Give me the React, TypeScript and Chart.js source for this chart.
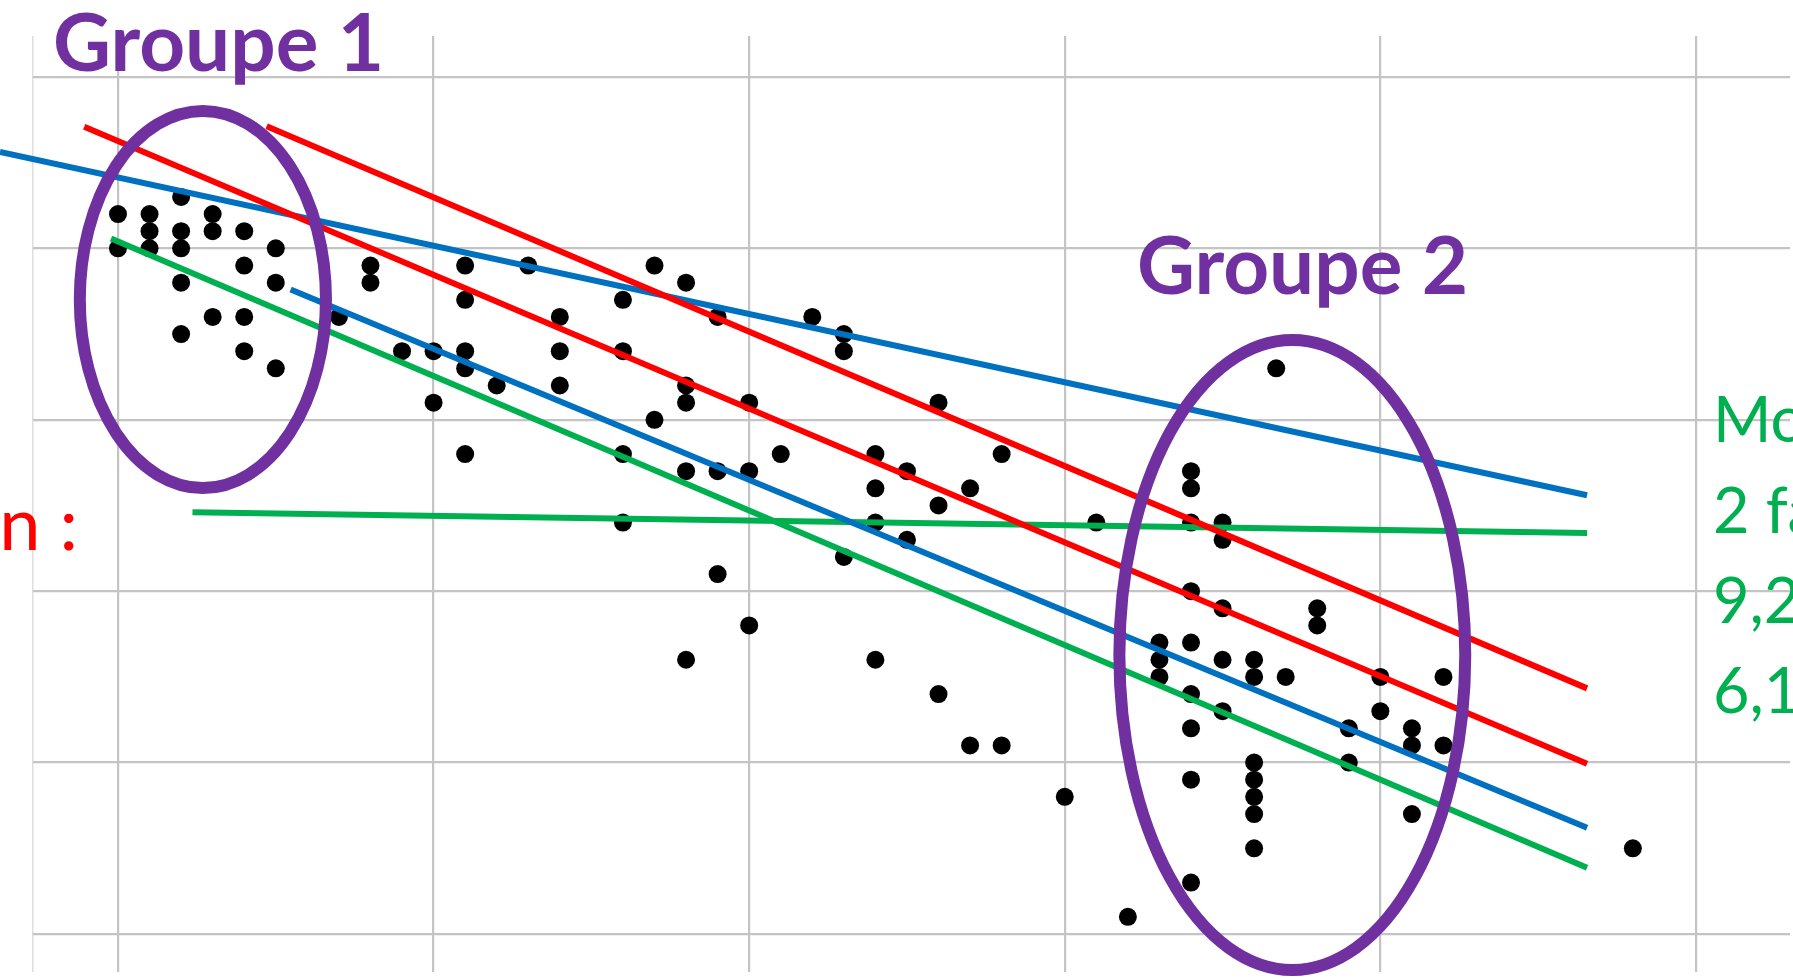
import React, { useEffect, useRef } from "react";
import { Chart, registerables } from "chart.js";

Chart.register(...registerables);

// Axis ranges (data units) and gridline positions
const X_MIN = -2.693;
const X_MAX = 52.98;
const Y_MIN = -2.217;
const Y_MAX = 52.39;
const xGridTicks = [0, 10, 20, 30, 40, 50];
const yGridTicks = [0, 10, 20, 30, 40, 50];

// Scatter points
const dotX = [
  0, 0,
  1, 1, 1,
  2, 2, 2, 2, 2,
  3, 3, 3,
  4, 4, 4, 4,
  5, 5, 5,
  7,
  8, 8,
  9,
  10, 10,
  11, 11, 11, 11, 11,
  12,
  13,
  14, 14, 14,
  16, 16, 16, 16,
  17, 17,
  18, 18, 18, 18, 18,
  19, 19, 19,
  20, 20, 20,
  21,
  22,
  23, 23, 23,
  24, 24, 24, 24,
  25, 25,
  26, 26, 26,
  27, 27,
  28, 28,
  30,
  31,
  32,
  33, 33, 33,
  34, 34, 34, 34, 34, 34, 34, 34, 34,
  35, 35, 35, 35, 35,
  36, 36, 36, 36, 36, 36, 36,
  36.7,
  37,
  38, 38,
  39, 39,
  40, 40,
  41, 41, 41,
  42, 42,
  48,
];
const dotY = [
  42, 40,
  42, 41, 40,
  43, 41, 40, 38, 35,
  42, 41, 36,
  41, 39, 36, 34,
  40, 38, 33,
  36,
  39, 38,
  34,
  34, 31,
  39, 37, 34, 33, 28,
  32,
  39,
  36, 34, 32,
  37, 34, 28, 24,
  39, 30,
  38, 32, 31, 27, 16,
  36, 27, 21,
  31, 27, 18,
  28,
  36,
  35, 34, 22,
  28, 26, 24, 16,
  27, 23,
  31, 25, 14,
  26, 11,
  28, 11,
  8,
  24,
  1,
  17, 16, 15,
  27, 26, 24, 20, 17, 14, 12, 9, 3,
  24, 23, 19, 16, 13,
  16, 15, 10, 9, 8, 7, 5,
  33,
  15,
  19, 18,
  12, 10,
  15, 13,
  12, 11, 7,
  15, 11,
  5,
];

// Fitted lines: [start, end] in data units
const redUpper = [[4.71, 47.13], [46.55, 14.33]];
const redLower = [[-1.07, 47.1], [46.55, 9.93]];
const blueUpper = [[-3.74, 45.63], [46.55, 25.6]];
const blueLower = [[5.47, 37.6], [46.55, 6.2]];
const greenSteep = [[-0.22, 40.57], [46.55, 3.87]];
const greenFlat = [[2.36, 24.6], [46.55, 23.4]];

// Group ellipses (data units)
const groupNames = ["Groupe 1", "Groupe 2"];
const groupCenterX = [2.69, 37.21];
const groupCenterY = [37.02, 16.28];
const groupRadiusX = [3.9, 5.48];
const groupRadiusY = [11.0, 18.38];

// Side texts
const leftNote = "n :";
const rightNotes = ["Mo", "2 fa", "9,2", "6,1"];

const PURPLE = "#7030A0";
const RED = "#FF0000";
const BLUE = "#0070C0";
const GREEN = "#00B050";

const toPts = (p: number[][]) => p.map(([x, y]) => ({ x, y }));

export default function App() {
  const ref = useRef<HTMLCanvasElement | null>(null);

  useEffect(() => {
    if (!ref.current) return;

    const overlay = {
      id: "overlay",
      afterDatasetsDraw(chart: any) {
        const { ctx } = chart;
        const xs = chart.scales.x;
        const ys = chart.scales.y;
        ctx.save();
        // ellipses
        ctx.strokeStyle = PURPLE;
        ctx.lineWidth = 12;
        for (let i = 0; i < groupNames.length; i++) {
          const cx = xs.getPixelForValue(groupCenterX[i]);
          const cy = ys.getPixelForValue(groupCenterY[i]);
          const rx = xs.getPixelForValue(groupCenterX[i] + groupRadiusX[i]) - cx;
          const ry = cy - ys.getPixelForValue(groupCenterY[i] + groupRadiusY[i]);
          ctx.beginPath();
          ctx.ellipse(cx, cy, rx, ry, 0, 0, Math.PI * 2);
          ctx.stroke();
        }
        // group labels
        ctx.fillStyle = PURPLE;
        ctx.font = "bold 80px Lato";
        ctx.textBaseline = "alphabetic";
        ctx.textAlign = "left";
        ctx.fillText(groupNames[0], 53, 71);
        ctx.fillText(groupNames[1], 1137, 294);
        // left red note
        ctx.fillStyle = RED;
        ctx.font = "74px Lato";
        ctx.textAlign = "right";
        ctx.fillText(leftNote, 78, 550);
        // right green notes
        ctx.fillStyle = GREEN;
        ctx.font = "63px Lato";
        ctx.textAlign = "left";
        const baselines = [442, 533, 623, 713];
        rightNotes.forEach((t, i) => ctx.fillText(t, 1713, baselines[i]));
        ctx.restore();
      },
    };

    const lineDs = (pts: number[][], color: string) => ({
      data: toPts(pts),
      showLine: true,
      borderColor: color,
      backgroundColor: color,
      borderWidth: 6,
      pointRadius: 0,
      pointHoverRadius: 0,
      clip: false as any,
      order: 0,
    });

    const chart = new Chart(ref.current, {
      type: "scatter",
      data: {
        datasets: [
          lineDs(redUpper, RED),
          lineDs(redLower, RED),
          lineDs(blueUpper, BLUE),
          lineDs(blueLower, BLUE),
          lineDs(greenSteep, GREEN),
          lineDs(greenFlat, GREEN),
          {
            data: dotX.map((x, i) => ({ x, y: dotY[i] })),
            pointRadius: 9,
            pointBackgroundColor: "#000",
            pointBorderWidth: 0,
            borderWidth: 0,
            showLine: false,
            order: 10,
          } as any,
        ],
      },
      options: {
        animation: false,
        responsive: false,
        devicePixelRatio: 1,
        layout: { autoPadding: false, padding: { left: 33, top: 36, right: 3, bottom: 8 } },
        plugins: { legend: { display: false }, tooltip: { enabled: false } },
        events: [],
        scales: {
          x: {
            type: "linear",
            min: X_MIN,
            max: X_MAX,
            afterBuildTicks: (s: any) => {
              s.ticks = [X_MIN, ...xGridTicks].map((v) => ({ value: v }));
            },
            ticks: { display: false },
            border: { display: false },
            grid: {
              drawTicks: false,
              color: (c: any) => (c.tick && c.tick.value === X_MIN ? "#dedede" : "#c4c4c4"),
              lineWidth: (c: any) => (c.tick && c.tick.value === X_MIN ? 1.5 : 2.2),
            },
          },
          y: {
            type: "linear",
            min: Y_MIN,
            max: Y_MAX,
            afterBuildTicks: (s: any) => {
              s.ticks = yGridTicks.map((v) => ({ value: v }));
            },
            ticks: { display: false },
            border: { display: false },
            grid: { drawTicks: false, color: "#c4c4c4", lineWidth: 2.2 },
          },
        },
      },
      plugins: [overlay],
    });
    return () => chart.destroy();
  }, []);

  return (
    <div style={{ position: "fixed", left: 0, top: 0, width: 1793, height: 980, background: "#fff" }}>
      <canvas ref={ref} width={1793} height={980} style={{ display: "block", width: 1793, height: 980 }} />
    </div>
  );
}
